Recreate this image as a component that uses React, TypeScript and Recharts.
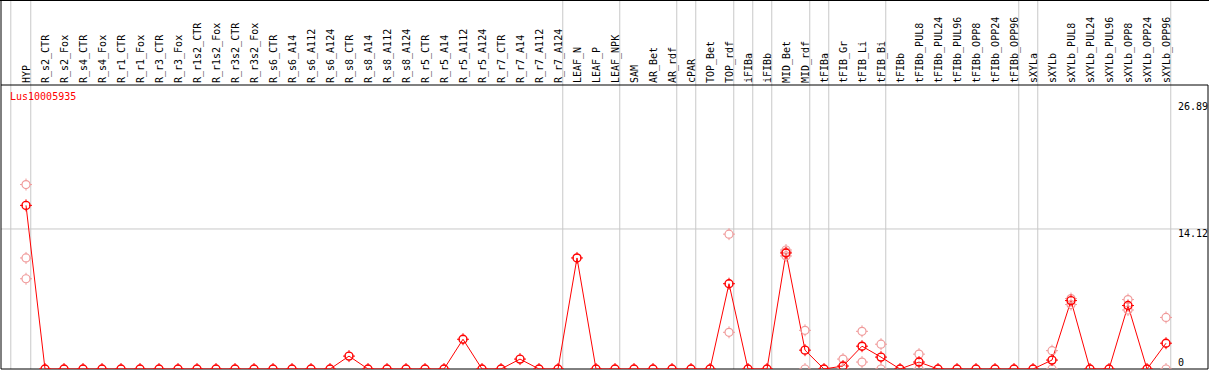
import { ComposedChart, Line, XAxis, YAxis, ReferenceLine } from 'recharts';

const categories = [
  'HYP', 'R_s2_CTR', 'R_s2_Fox', 'R_s4_CTR', 'R_s4_Fox', 'R_r1_CTR', 'R_r1_Fox', 'R_r3_CTR', 'R_r3_Fox',
  'R_r1s2_CTR', 'R_r1s2_Fox', 'R_r3s2_CTR', 'R_r3s2_Fox', 'R_s6_CTR', 'R_s6_A14', 'R_s6_A112', 'R_s6_A124',
  'R_s8_CTR', 'R_s8_A14', 'R_s8_A112', 'R_s8_A124', 'R_r5_CTR', 'R_r5_A14', 'R_r5_A112', 'R_r5_A124',
  'R_r7_CTR', 'R_r7_A14', 'R_r7_A112', 'R_r7_A124', 'LEAF_N', 'LEAF_P', 'LEAF_NPK', 'SAM', 'AR_Bet', 'AR_rdf',
  'cPAR', 'TOP_Bet', 'TOP_rdf', 'iFIBa', 'iFIBb', 'MID_Bet', 'MID_rdf', 'tFIBa', 'tFIB_Gr', 'tFIB_Li', 'tFIB_Bi',
  'tFIBb', 'tFIBb_PUL8', 'tFIBb_PUL24', 'tFIBb_PUL96', 'tFIBb_OPP8', 'tFIBb_OPP24', 'tFIBb_OPP96', 'sXYLa',
  'sXYLb', 'sXYLb_PUL8', 'sXYLb_PUL24', 'sXYLb_PUL96', 'sXYLb_OPP8', 'sXYLb_OPP24', 'sXYLb_OPP96',
];

// mean expression per sample
const meanValues = [
  16.5, 0, 0, 0, 0, 0, 0, 0, 0, 0, 0, 0, 0, 0, 0, 0, 0,
  1.3, 0, 0, 0, 0, 0, 3.0, 0, 0, 1.0, 0, 0,
  11.2, 0, 0, 0, 0, 0, 0, 0, 8.6, 0, 0, 11.7, 1.9,
  0, 0.3, 2.3, 1.2, 0, 0.7, 0, 0, 0, 0, 0, 0,
  0.9, 6.9, 0, 0, 6.4, 0, 2.6,
];

// individual replicates (null = hidden behind the mean)
const rep1 = [
  18.6, null, null, null, null, null, null, null, null, null, null, null, null, null, null, null, null,
  null, null, null, null, null, null, null, null, null, null, null, null,
  null, null, null, null, null, null, null, null, 13.6, null, null, 12.0, 3.9,
  null, 1.0, 3.8, 2.5, null, 1.5, null, null, null, null, null, null,
  1.85, 7.1, null, null, 7.0, null, 5.2,
];
const rep2 = [
  11.2, null, null, null, null, null, null, null, null, null, null, null, null, null, null, null, null,
  null, null, null, null, null, null, null, null, null, null, null, null,
  null, null, null, null, null, null, null, null, 3.7, null, null, 11.4, 0,
  null, 0, 0.7, 0, null, 0, null, null, null, null, null, null,
  0, 6.5, null, null, 5.95, null, 0,
];
const rep3 = [
  9.1, null, null, null, null, null, null, null, null, null, null, null, null, null, null, null, null,
  null, null, null, null, null, null, null, null, null, null, null, null,
  null, null, null, null, null, null, null, null, null, null, null, 11.8, null,
  null, null, null, null, null, null, null, null, null, null, null, null,
  null, null, null, null, null, null, null,
];

// last sample of each group, a separator follows it
const groupEnds = ['HYP', 'R_r7_A124', 'LEAF_NPK', 'AR_rdf', 'cPAR', 'TOP_rdf', 'iFIBa', 'iFIBb', 'MID_rdf',
  'tFIBa', 'tFIB_Bi', 'tFIBb_OPP96', 'sXYLa', 'sXYLb_OPP96'];

const yTicks = [0, 14.12, 26.89];
const geneId = 'Lus10005935';

const data = categories.map((name, i) => ({
  idx: i,
  name,
  mean: meanValues[i],
  r1: rep1[i],
  r2: rep2[i],
  r3: rep3[i],
}));

const FONT = '"DejaVu Sans Mono", monospace';
const GRID = '#c8c8c8';
const X_DOMAIN: [number, number] = [-25 / 19, 1182 / 19];
const Y_DOMAIN: [number, number] = [0, 28.64];

const separators = [-0.8, ...groupEnds.map((g) => categories.indexOf(g) + 0.25)];

const FullHeightLine = (p: any) => {
  const bottom = Math.max(p.y1, p.y2);
  return <line x1={p.x1} x2={p.x2} y1={0} y2={bottom} stroke={p.stroke} strokeWidth={1} />;
};

const CategoryTick = (p: any) => {
  const { x, y, payload } = p;
  return (
    <text
      x={x}
      y={y}
      dy='0.35em'
      transform={`rotate(-90 ${x} ${y})`}
      textAnchor='start'
      fontFamily={FONT}
      fontSize={10}
      fill='#000'
    >
      {categories[payload.value]}
    </text>
  );
};

const valueLabel = (value: number) => (p: any) => {
  const vb = p.viewBox || {};
  const x = (vb.x ?? 0) + (vb.width ?? 0) - 30;
  const y = vb.y ?? 0;
  return (
    <text x={x} y={y} dy={value === 0 ? -3 : 8} fontFamily={FONT} fontSize={10} fill='#000'>
      {value}
    </text>
  );
};

const MeanDot = (p: any) => {
  const { cx, cy, value, index } = p;
  if (value == null || cy == null) return <g key={index} />;
  return (
    <g key={index}>
      <circle cx={cx} cy={cy} r={4} fill='none' stroke='#ff0000' strokeWidth={1.4} />
      <line x1={cx} x2={cx} y1={cy - 6} y2={cy - 3} stroke='#ff0000' strokeWidth={1} />
      <line x1={cx} x2={cx} y1={cy + 3} y2={cy + 6} stroke='#ff0000' strokeWidth={1} />
      <line x1={cx - 6} x2={cx - 3} y1={cy} y2={cy} stroke='#ff0000' strokeWidth={1} />
      <line x1={cx + 3} x2={cx + 6} y1={cy} y2={cy} stroke='#ff0000' strokeWidth={1} />
    </g>
  );
};

const RepDot = (p: any) => {
  const { cx, cy, value, index } = p;
  if (value == null || cy == null || Number.isNaN(cy)) return <g key={index} />;
  return (
    <g key={index}>
      <circle cx={cx} cy={cy} r={4} fill='none' stroke='#f09a9a' strokeWidth={1.2} />
      <line x1={cx} x2={cx} y1={cy - 6} y2={cy - 4} stroke='#f09a9a' strokeWidth={1} />
      <line x1={cx} x2={cx} y1={cy + 4} y2={cy + 6} stroke='#f09a9a' strokeWidth={1} />
      <line x1={cx - 6} x2={cx - 4} y1={cy} y2={cy} stroke='#f09a9a' strokeWidth={1} />
      <line x1={cx + 4} x2={cx + 6} y1={cy} y2={cy} stroke='#f09a9a' strokeWidth={1} />
    </g>
  );
};

export default function App() {
  return (
    <div style={{ position: 'absolute', left: 0, top: 0, width: 1209, height: 370, background: '#fff' }}>
      <ComposedChart width={1209} height={370} data={data} margin={{ top: 0, right: 1, bottom: 1, left: 1 }}>
        <XAxis
          xAxisId='x'
          dataKey='idx'
          type='number'
          orientation='top'
          domain={X_DOMAIN}
          allowDataOverflow
          ticks={categories.map((_, i) => i)}
          interval={0}
          height={85}
          tickLine={false}
          tickSize={0}
          tickMargin={2}
          axisLine={{ stroke: '#000', strokeWidth: 1 }}
          tick={<CategoryTick />}
        />
        <YAxis yAxisId='y' type='number' domain={Y_DOMAIN} allowDataOverflow hide />
        <ReferenceLine xAxisId='x' yAxisId='y' y={14.12} stroke={GRID} />
        {separators.map((s) => (
          <ReferenceLine key={s} xAxisId='x' yAxisId='y' x={s} stroke={GRID} shape={FullHeightLine} />
        ))}
        <ReferenceLine xAxisId='x' yAxisId='y' x={X_DOMAIN[0]} stroke='#000' shape={FullHeightLine} />
        <ReferenceLine xAxisId='x' yAxisId='y' x={X_DOMAIN[1]} stroke='#000' />
        <ReferenceLine xAxisId='x' yAxisId='y' y={0} stroke='#000' />
        {yTicks.map((t) => (
          <ReferenceLine
            key={`t${t}`}
            xAxisId='x'
            yAxisId='y'
            y={t}
            stroke='none'
            label={valueLabel(t)}
          />
        ))}
        {['r1', 'r2', 'r3'].map((k) => (
          <Line
            key={k}
            xAxisId='x'
            yAxisId='y'
            dataKey={k}
            stroke='none'
            dot={<RepDot />}
            activeDot={false}
            isAnimationActive={false}
          />
        ))}
        <Line
          xAxisId='x'
          yAxisId='y'
          dataKey='mean'
          type='linear'
          stroke='#ff0000'
          strokeWidth={1}
          dot={<MeanDot />}
          activeDot={false}
          isAnimationActive={false}
        />
      </ComposedChart>
      <div style={{ position: 'absolute', left: 0, top: 0, width: 1209, height: 1, background: '#000' }} />
      <div
        style={{
          position: 'absolute',
          left: 10,
          top: 91,
          fontFamily: FONT,
          fontSize: 10,
          lineHeight: '12px',
          color: '#ff0000',
        }}
      >
        {geneId}
      </div>
    </div>
  );
}
